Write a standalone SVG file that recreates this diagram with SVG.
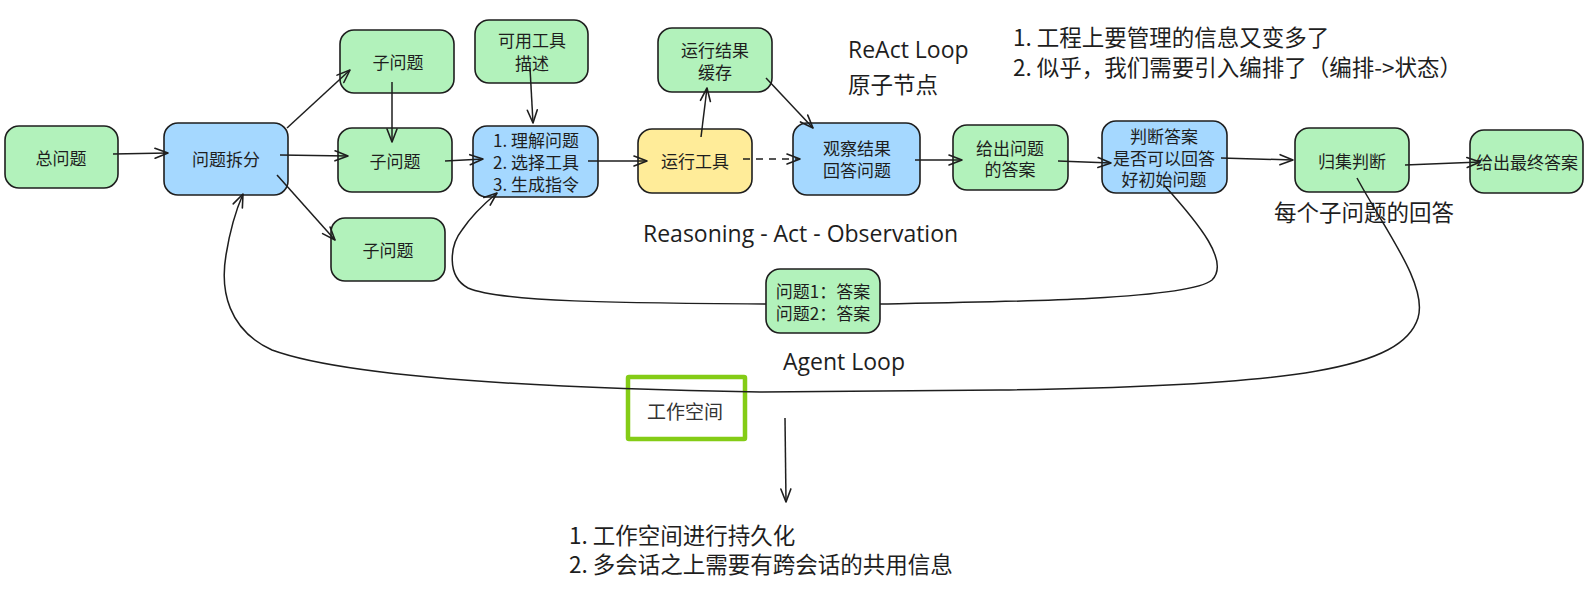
<svg xmlns="http://www.w3.org/2000/svg" width="1589" height="594" viewBox="0 0 1589 594">
<style>
.n rect{stroke:#1e1e1e;stroke-width:1.6}
.g rect{fill:#b2f2bb}
.b rect{fill:#a5d8ff}
.y rect{fill:#ffec99}
.n text{font-family:"Noto Sans CJK SC","Noto Sans",sans-serif;font-size:17px;fill:#1e1e1e;text-anchor:middle;dominant-baseline:central}
.c{fill:none;stroke:#1e1e1e;stroke-width:1.5}
.lbl{font-family:"Open Sans","Noto Sans CJK SC",sans-serif;font-size:23px;fill:#1e1e1e}
.cn{font-family:"Noto Sans CJK SC",sans-serif;font-size:22.5px;fill:#1e1e1e}
</style>
<defs>
<marker id="ah" markerUnits="userSpaceOnUse" markerWidth="20" markerHeight="20" viewBox="-16 -10 20 20" refX="0" refY="0" orient="auto">
<path d="M-13,-5 L0,0 L-13,5" fill="none" stroke="#1e1e1e" stroke-width="1.6" stroke-linecap="round" stroke-linejoin="round"/>
</marker>
</defs>
<rect width="1589" height="594" fill="#ffffff"/>

<g id="n-zong" class="n g"><rect x="5" y="126" width="113" height="62" rx="14"/><text x="61" y="157">总问题</text></g>
<g id="n-chaifen" class="n b"><rect x="164" y="123" width="124" height="72" rx="14"/><text x="226" y="158">问题拆分</text></g>
<g id="n-zi1" class="n g"><rect x="340" y="30" width="114" height="63" rx="14"/><text x="398" y="61">子问题</text></g>
<g id="n-zi2" class="n g"><rect x="338" y="128" width="114" height="64" rx="14"/><text x="395" y="160">子问题</text></g>
<g id="n-zi3" class="n g"><rect x="331" y="218" width="114" height="63" rx="14"/><text x="388" y="249">子问题</text></g>
<g id="n-tools" class="n g"><rect x="475" y="20" width="113" height="63" rx="14"/><text x="532" y="39">可用工具</text><text x="532" y="62">描述</text></g>
<g id="n-reason" class="n b"><rect x="473" y="126" width="125" height="71" rx="14"/><text x="536" y="139">1. 理解问题</text><text x="536" y="161">2. 选择工具</text><text x="536" y="183">3. 生成指令</text></g>
<g id="n-cache" class="n g"><rect x="658" y="28" width="114" height="64" rx="14"/><text x="715" y="49">运行结果</text><text x="715" y="71">缓存</text></g>
<g id="n-run" class="n y"><rect x="638" y="129" width="114" height="64" rx="14"/><text x="695" y="160">运行工具</text></g>
<g id="n-observe" class="n b"><rect x="793" y="123" width="127" height="72" rx="14"/><text x="857" y="147">观察结果</text><text x="857" y="169">回答问题</text></g>
<g id="n-answer" class="n g"><rect x="953" y="125" width="115" height="65" rx="14"/><text x="1010" y="147">给出问题</text><text x="1010" y="168">的答案</text></g>
<g id="n-judge" class="n b"><rect x="1102" y="121" width="125" height="72" rx="14"/><text x="1164" y="135">判断答案</text><text x="1164" y="157">是否可以回答</text><text x="1164" y="178">好初始问题</text></g>
<g id="n-collect" class="n g"><rect x="1295" y="128" width="114" height="64" rx="14"/><text x="1352" y="160">归集判断</text></g>
<g id="n-final" class="n g"><rect x="1470" y="130" width="113" height="63" rx="14"/><text x="1527" y="161">给出最终答案</text></g>
<g id="n-qa" class="n g"><rect x="766" y="269" width="114" height="64" rx="14"/><text x="823" y="290">问题1：答案</text><text x="823" y="312">问题2：答案</text></g>

<g id="n-workspace"><rect x="628" y="377" width="117" height="62" fill="none" stroke="#84cc16" stroke-width="4.5" rx="1"/><text x="685" y="410" font-family="'Noto Sans CJK SC',sans-serif" font-size="19" fill="#333" text-anchor="middle" dominant-baseline="central">工作空间</text></g>

<g id="connectors">
<path class="c" d="M1357 178 C1385 230,1428 285,1418 318 C1402 368,1300 386,1000 390 L760 392 C520 388,340 375,272 350 C228 330,220 290,226 255 C230 230,236 210,243 194" marker-end="url(#ah)"/>
<path class="c" d="M1164 185 C1200 225,1230 262,1212 280 C1188 300,1000 302,880 304"/>
<path class="c" d="M766 304 C620 303,500 302,468 288 C446 276,450 245,462 230 C472 215,485 203,497 193" marker-end="url(#ah)"/>
<path class="c" d="M113 154 L168 153" marker-end="url(#ah)"/>
<path class="c" d="M287 128 L350 70" marker-end="url(#ah)"/>
<path class="c" d="M280 155 L348 156" marker-end="url(#ah)"/>
<path class="c" d="M277 175 L335 240" marker-end="url(#ah)"/>
<path class="c" d="M392 82 L392 142" marker-end="url(#ah)"/>
<path class="c" d="M445 161 L483 159" marker-end="url(#ah)"/>
<path class="c" d="M530 68 L533 123" marker-end="url(#ah)"/>
<path class="c" d="M588 161 L647 161" marker-end="url(#ah)"/>
<path class="c" d="M701 137 L707 88" marker-end="url(#ah)"/>
<path class="c" d="M766 78 L813 128" marker-end="url(#ah)"/>
<path class="c" d="M743 159 L800 159" stroke-dasharray="7 6" marker-end="url(#ah)"/>
<path class="c" d="M915 160 L962 160" marker-end="url(#ah)"/>
<path class="c" d="M1058 161 L1111 163" marker-end="url(#ah)"/>
<path class="c" d="M1221 158 L1293 160" marker-end="url(#ah)"/>
<path class="c" d="M1405 165 L1480 162" marker-end="url(#ah)"/>
<path class="c" d="M785 418 L786 502" marker-end="url(#ah)"/>
</g>

<g id="labels">
<text class="lbl" x="848" y="58">ReAct Loop</text>
<text class="cn" x="848" y="93" font-size="24">原子节点</text>
<text class="lbl" x="643" y="242">Reasoning - Act - Observation</text>
<text class="lbl" x="783" y="370" font-size="20">Agent Loop</text>
<text class="cn" x="1274" y="221" font-size="19" fill="#555">每个子问题的回答</text>
<text class="cn" x="1013" y="46">1. 工程上要管理的信息又变多了</text>
<text class="cn" x="1013" y="76">2. 似乎，我们需要引入编排了（编排-&gt;状态）</text>
<text class="cn" x="569" y="544">1. 工作空间进行持久化</text>
<text class="cn" x="569" y="573">2. 多会话之上需要有跨会话的共用信息</text>
</g>
</svg>
